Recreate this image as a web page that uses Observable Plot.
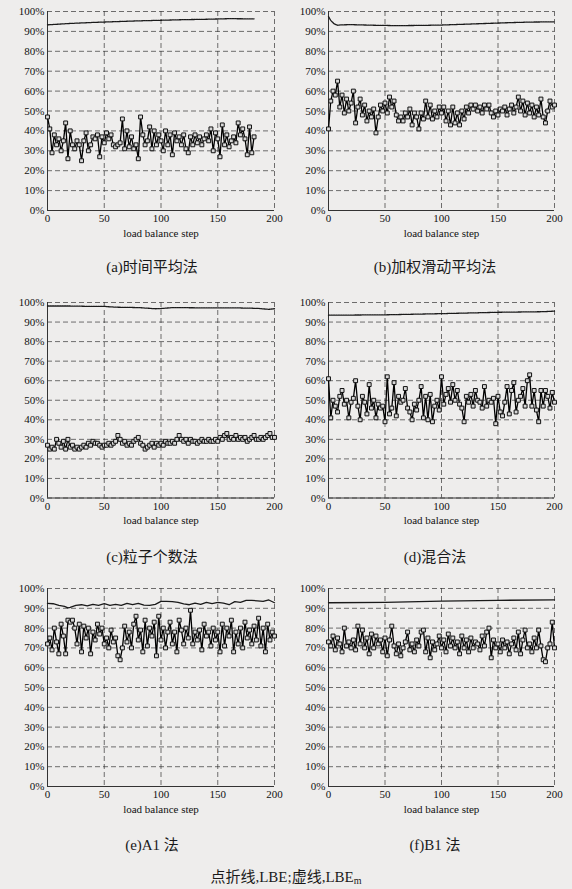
<!DOCTYPE html>
<html><head><meta charset="utf-8">
<script src="https://cdn.jsdelivr.net/npm/d3@7"></script>
<script src="https://cdn.jsdelivr.net/npm/@observablehq/plot@0.6"></script>
<style>
body{margin:0;background:#eeedec;}
#root{position:relative;width:572px;height:889px;overflow:hidden;font-family:"Liberation Serif","Noto Sans CJK SC",serif;color:#1a1a1a;}
.panel{position:absolute;}
.cap{position:absolute;font-size:15px;line-height:18px;white-space:nowrap;transform:translateX(-50%);color:#1a1a1a;}
</style></head><body><div id="root"></div>
<script>
// x (load balance step) ticks and y (percent) ticks
const xTicks = [0, 50, 100, 150, 200];
const yTicks = [0, 10, 20, 30, 40, 50, 60, 70, 80, 90, 100];

// sampled steps for the LBE series
const steps = [0,2,4,6,8,10,12,14,16,18,20,22,24,26,28,30,32,34,36,38,40,42,44,46,48,50,52,54,56,58,60,62,64,66,68,70,72,74,76,78,80,82,84,86,88,90,92,94,96,98,100,102,104,106,108,110,112,114,116,118,120,122,124,126,128,130,132,134,136,138,140,142,144,146,148,150,152,154,156,158,160,162,164,166,168,170,172,174,176,178,180,182,184,186,188,190,192,194,196,198,200];

// LBE values per panel (panel a runs to step 182)
const lbeA = [47,41,29,38,33,36,30,35,44,26,40,33,31,35,33,25,35,39,30,33,37,36,38,27,37,34,39,36,38,33,32,33,34,46,31,40,32,37,31,33,26,47,38,33,35,42,31,40,33,38,35,30,40,33,38,28,39,35,37,33,38,31,29,37,33,38,34,37,33,36,38,35,41,30,39,36,27,43,33,38,32,35,37,34,44,38,41,36,28,42,29,37];
const lbeB = [41,55,60,58,65,52,58,49,56,50,54,60,44,52,56,48,53,45,50,47,51,39,47,53,50,54,49,57,52,55,48,45,47,45,49,47,51,43,49,47,41,49,46,55,47,53,46,50,47,52,49,52,45,50,43,52,44,49,43,50,46,52,49,53,51,53,50,52,49,53,51,53,49,47,50,48,51,50,52,48,51,53,49,52,57,50,55,48,54,49,53,47,52,48,56,47,44,50,55,52,53];
const lbeC = [27,25,26,25,30,28,26,29,25,30,26,27,25,26,25,26,27,26,28,27,29,28,28,27,26,27,27,28,27,28,29,32,30,28,29,27,28,27,29,30,31,28,27,25,26,27,28,26,28,27,28,27,29,28,28,29,28,30,32,30,29,30,28,30,29,29,28,29,30,29,29,30,29,29,30,29,31,30,32,33,30,31,30,32,30,31,30,31,29,30,31,32,30,30,31,30,31,32,33,31,31];
const lbeD = [61,41,50,47,44,52,55,48,50,41,49,51,60,47,40,52,49,43,58,46,50,41,48,46,47,39,62,43,46,59,42,52,49,50,56,46,44,40,48,45,50,57,41,52,40,53,39,47,50,45,62,48,53,56,49,58,50,55,48,46,39,52,49,53,47,55,50,49,46,57,47,50,49,51,38,52,44,42,49,57,43,55,59,44,50,52,56,47,60,63,47,55,45,39,55,47,55,52,46,54,49];
const lbeE = [72,75,69,80,73,67,82,76,67,84,83,84,80,72,82,68,81,75,80,67,78,74,82,77,80,72,75,70,79,73,75,66,64,70,81,73,78,70,82,86,74,79,68,84,71,80,76,83,66,86,74,80,70,78,83,72,78,68,84,79,72,80,75,89,72,78,74,79,69,82,76,78,71,80,74,78,68,82,71,80,76,84,68,78,72,80,70,83,75,79,72,81,74,85,71,80,68,82,74,78,76];
const lbeF = [73,71,76,69,75,72,68,80,71,73,70,74,69,81,72,79,70,75,67,77,70,76,72,74,68,75,66,74,81,71,67,72,66,70,73,78,69,72,68,74,71,78,79,68,75,65,73,69,72,76,70,74,68,77,71,75,70,73,67,76,70,74,68,75,70,73,72,69,76,71,78,80,65,74,70,72,68,74,70,73,67,72,75,69,78,67,74,79,70,72,68,75,70,79,71,64,63,70,72,83,70];

// LBEm (upper) series: steps and values
const upStepsA = [0,20,40,60,80,100,120,140,160,182];
const lbemA = [93.3,94.0,94.5,94.9,95.3,95.6,95.9,96.1,96.4,96.3];
const upStepsB = [0,2,5,8,12,20,40,60,80,100,120,140,160,180,200];
const lbemB = [97.5,95.5,93.8,93.1,93.3,93.4,93.1,92.9,93.0,93.2,93.6,94.0,94.4,94.7,94.8];
const upStepsC = [0,20,40,50,60,80,95,100,110,130,150,170,185,195,200];
const lbemC = [98.2,98.2,98.0,98.0,97.6,97.4,96.8,96.9,97.4,97.3,97.2,97.2,97.0,96.5,96.8];
const upStepsD = [0,50,100,150,190,200];
const lbemD = [93.5,93.7,94.3,95.0,95.3,95.6];
const upStepsE = [0,5,10,15,18,20,25,30,35,40,45,50,55,60,65,70,75,80,85,90,95,100,105,110,115,120,125,130,135,140,145,150,155,160,165,170,175,180,185,190,195,200];
const lbemE = [92.5,92.3,91.5,91.0,90.2,90.5,91.5,91.8,91.2,92.0,91.5,92.3,91.5,92.0,91.5,92.5,91.8,92.5,91.6,91.5,92.0,93.5,93.5,93.4,93.0,92.2,91.8,92.6,92.0,93.0,92.4,93.0,92.6,91.8,93.4,93.0,94.0,94.0,93.8,93.5,94.2,92.8];
const upStepsF = [0,50,100,150,200];
const lbemF = [92.8,93.0,93.6,94.0,94.3];

const captions = ["(a)时间平均法","(b)加权滑动平均法","(c)粒子个数法","(d)混合法","(e)A1 法","(f)B1 法"];

const root = document.getElementById("root");
const cols = [{left:0, ml:47, mr:12, cap:152},{left:283, ml:45, mr:15, cap:435}];
const rows = [{top:0, mt:11, mb:30, cap:258},{top:290, mt:12, mb:32.5, cap:548},{top:576, mt:12, mb:30, cap:836}];

const panels = [
  {lx: steps.slice(0, lbeA.length), ly: lbeA, ux: upStepsA, uy: lbemA, dashed:true},
  {lx: steps, ly: lbeB, ux: upStepsB, uy: lbemB, dashed:true},
  {lx: steps, ly: lbeC, ux: upStepsC, uy: lbemC, dashed:true},
  {lx: steps, ly: lbeD, ux: upStepsD, uy: lbemD, dashed:true},
  {lx: steps, ly: lbeE, ux: upStepsE, uy: lbemE, dashed:false},
  {lx: steps, ly: lbeF, ux: upStepsF, uy: lbemF, dashed:false}
];

panels.forEach((p, i) => {
  const c = cols[i % 2], r = rows[Math.floor(i / 2)];
  const low = p.lx.map((x, j) => ({x, y: p.ly[j]}));
  const up = p.ux.map((x, j) => ({x, y: p.uy[j]}));
  const grid = {stroke:"#2e2e2e", strokeOpacity:0.85, strokeWidth:0.8, strokeDasharray:"5,3"};
  const svg = Plot.plot({
    width: 286, height: 240,
    marginLeft: c.ml, marginRight: c.mr, marginTop: r.mt, marginBottom: r.mb,
    style: {background:"transparent", fontFamily:'"Liberation Serif", serif', fontSize:"11px", color:"#111", overflow:"visible"},
    x: {domain:[0,200]},
    y: {domain:[0,100]},
    marks: [
      Plot.gridY(yTicks, grid),
      Plot.gridX(xTicks, grid),
      Plot.ruleY([0], {stroke:"#333", strokeWidth:1}),
      Plot.ruleX([0], {stroke:"#333", strokeWidth:1}),
      Plot.axisY(yTicks, {tickSize:0, tickPadding:3, tickFormat: d => d + "%", label:null, fontSize:11}),
      Plot.axisX(xTicks, {tickSize:0, tickPadding:4, label:"load balance step", labelAnchor:"center", labelArrow:"none", labelOffset:26, fontSize:11}),
      Plot.line(up, {x:"x", y:"y", stroke:"#1a1a1a", strokeWidth:1.3, strokeDasharray: p.dashed ? "1.6,0.8" : null}),
      Plot.line(low, {x:"x", y:"y", stroke:"#000", strokeWidth:1.3}),
      Plot.dot(low, {x:"x", y:"y", symbol:"square", r:2.2, stroke:"#111", fill:"#d8d8d8", strokeWidth:1})
    ]
  });
  svg.classList.add("panel");
  svg.style.left = c.left + "px";
  svg.style.top = r.top + "px";
  svg.style.position = "absolute";
  root.appendChild(svg);
  const cap = document.createElement("div");
  cap.className = "cap";
  cap.textContent = captions[i];
  cap.style.left = c.cap + "px";
  cap.style.top = r.cap + "px";
  root.appendChild(cap);
});

const note = document.createElement("div");
note.className = "cap";
note.innerHTML = "点折线,LBE;虚线,LBE<sub style=\"font-size:10px;vertical-align:-2px\">m</sub>";
note.style.left = "286px";
note.style.top = "868px";
root.appendChild(note);
</script>
</body></html>
